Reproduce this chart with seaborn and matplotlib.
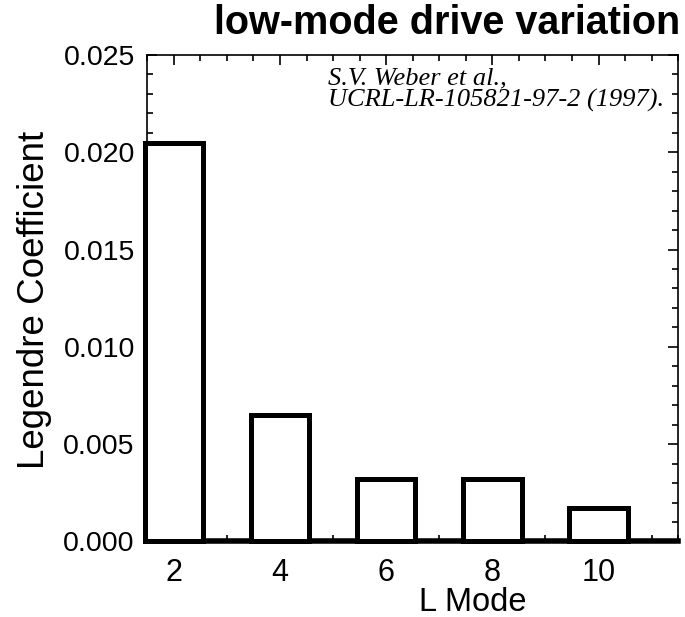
import matplotlib
matplotlib.use("Agg")
import matplotlib.pyplot as plt
import seaborn as sns
import pandas as pd
from matplotlib.ticker import MultipleLocator, FormatStrFormatter

# Data
l_modes = [2, 4, 6, 8, 10]
coefficients = [0.0205, 0.0065, 0.0032, 0.0032, 0.0017]
title_text = "low-mode drive variation"
x_label = "L Mode"
y_label = "Legendre Coefficient"
ref_lines = ["S.V. Weber et al.,", "UCRL-LR-105821-97-2 (1997)."]

sns.set_theme(style="white")
plt.rcParams['font.family'] = ['Liberation Sans', 'DejaVu Sans']
plt.rcParams['text.color'] = 'black'
plt.rcParams['axes.labelcolor'] = 'black'
plt.rcParams['xtick.color'] = 'black'
plt.rcParams['ytick.color'] = 'black'

df = pd.DataFrame({"mode": l_modes, "coef": coefficients})

fig = plt.figure(figsize=(6.85, 6.17), dpi=100)
ax = fig.add_axes([0.215, 0.1224, 0.775, 0.7885])

sns.barplot(data=df, x="mode", y="coef", native_scale=True, width=0.55,
            color="white", saturation=1, edgecolor="black", linewidth=3.6,
            ax=ax, errorbar=None)
for p in ax.patches:
    p.set_clip_on(False)
    p.set_zorder(3)

ax.set_xlim(1.5, 11.5)
ax.set_ylim(0, 0.025)
ax.set_axisbelow(True)

ax.xaxis.set_major_locator(MultipleLocator(2))
ax.xaxis.set_minor_locator(MultipleLocator(0.5))
ax.yaxis.set_major_locator(MultipleLocator(0.005))
ax.yaxis.set_minor_locator(MultipleLocator(0.001))
ax.yaxis.set_major_formatter(FormatStrFormatter('%.3f'))

ax.tick_params(which='both', direction='in', top=True, right=True,
               bottom=True, left=True, color='black', labelcolor='black')
ax.tick_params(which='major', length=7, width=1.2, pad=9)
ax.tick_params(which='minor', length=4, width=1.2)
ax.tick_params(axis='y', which='major', labelsize=20.5)
ax.tick_params(axis='x', which='major', labelsize=22, pad=12)

for side in ['top', 'right', 'left']:
    ax.spines[side].set_linewidth(1.2)
    ax.spines[side].set_color('black')
ax.spines['bottom'].set_linewidth(4)
ax.spines['bottom'].set_color('black')

ax.set_xlabel(x_label, fontsize=23.5)
ax.xaxis.label.set_va('center')
ax.xaxis.label.set_ha('center')
ax.xaxis.set_label_coords(0.614, -0.126)

ax.set_ylabel(y_label, fontsize=26.5)
ax.yaxis.label.set_va('center')
ax.yaxis.label.set_ha('center')
ax.yaxis.set_label_coords(-0.2115, 0.496)

fig.text(0.993, 0.963, title_text, ha='right', va='center',
         fontsize=28.5, fontweight='bold', color='black')

ax.text(0.34, 0.975, ref_lines[0], transform=ax.transAxes, ha='left', va='top',
        fontsize=19, fontstyle='italic', family=['Liberation Serif', 'DejaVu Serif'])
ax.text(0.34, 0.93, ref_lines[1], transform=ax.transAxes, ha='left', va='top',
        fontsize=19, fontstyle='italic', family=['Liberation Serif', 'DejaVu Serif'])

fig.savefig("out.png", dpi=100)
